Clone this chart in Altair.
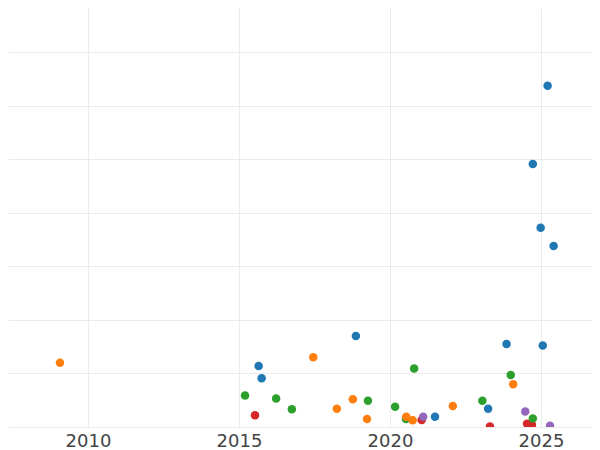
import altair as alt
import pandas as pd

# Series values (year, value) per category
series = ["A", "B", "C", "D", "E"]
colors = ["#1f77b4", "#ff7f0e", "#2ca02c", "#d62728", "#9467bd"]

a_year = [2025.22, 2024.73, 2024.99, 2025.42, 2018.87, 2023.86, 2025.06, 2015.65, 2015.75, 2021.49, 2023.25]
a_val = [63.7, 49.1, 37.2, 33.8, 17.0, 15.5, 15.2, 11.4, 9.1, 1.9, 3.4]

b_year = [2009.07, 2017.46, 2018.24, 2018.77, 2019.24, 2022.08, 2024.08, 2020.54, 2020.75]
b_val = [12.0, 13.0, 3.4, 5.2, 1.5, 3.9, 8.0, 1.9, 1.25]

c_year = [2015.20, 2016.23, 2016.75, 2019.27, 2020.17, 2020.80, 2020.53, 2023.06, 2024.00, 2024.73]
c_val = [5.9, 5.3, 3.3, 4.9, 3.8, 10.9, 1.5, 4.9, 9.7, 1.6]

d_year = [2015.53, 2021.05, 2023.31, 2024.54, 2024.70]
d_val = [2.2, 1.3, 0.1, 0.6, 0.4]

e_year = [2021.10, 2024.48, 2025.30]
e_val = [1.9, 2.9, 0.25]

x_ticks = [2010, 2015, 2020, 2025]
y_ticks = [0, 10, 20, 30, 40, 50, 60, 70]

rows = []
for name, ys, vs in zip(series, [a_year, b_year, c_year, d_year, e_year],
                        [a_val, b_val, c_val, d_val, e_val]):
    for y, v in zip(ys, vs):
        rows.append({"series": name, "year": y, "value": v})
df = pd.DataFrame(rows).sort_values("year")

chart = alt.Chart(df).mark_circle(size=72, opacity=1, clip=True).encode(
    x=alt.X("year:Q",
            scale=alt.Scale(domain=[2007.35, 2026.69], nice=False, zero=False),
            axis=alt.Axis(values=x_ticks, format="d", title=None, domain=False,
                          ticks=False, tickSize=0, labelPadding=5,
                          labelFontSize=18, labelFont="DejaVu Sans",
                          labelColor="#444444", gridColor="#ebebeb",
                          labelFlush=False)),
    y=alt.Y("value:Q",
            scale=alt.Scale(domain=[0, 78.2], nice=False, zero=False),
            axis=alt.Axis(values=y_ticks, title=None, labels=False, domain=False,
                          ticks=False, tickSize=0, gridColor="#ebebeb")),
    color=alt.Color("series:N", scale=alt.Scale(domain=series, range=colors),
                    legend=None),
).properties(
    width=584, height=419,
    autosize=alt.AutoSizeParams(type="none"),
    padding={"left": 0, "top": 0, "right": 0, "bottom": 23},
).configure_view(stroke=None)

chart.save("out.html", embed_options={"renderer": "svg", "actions": False})
